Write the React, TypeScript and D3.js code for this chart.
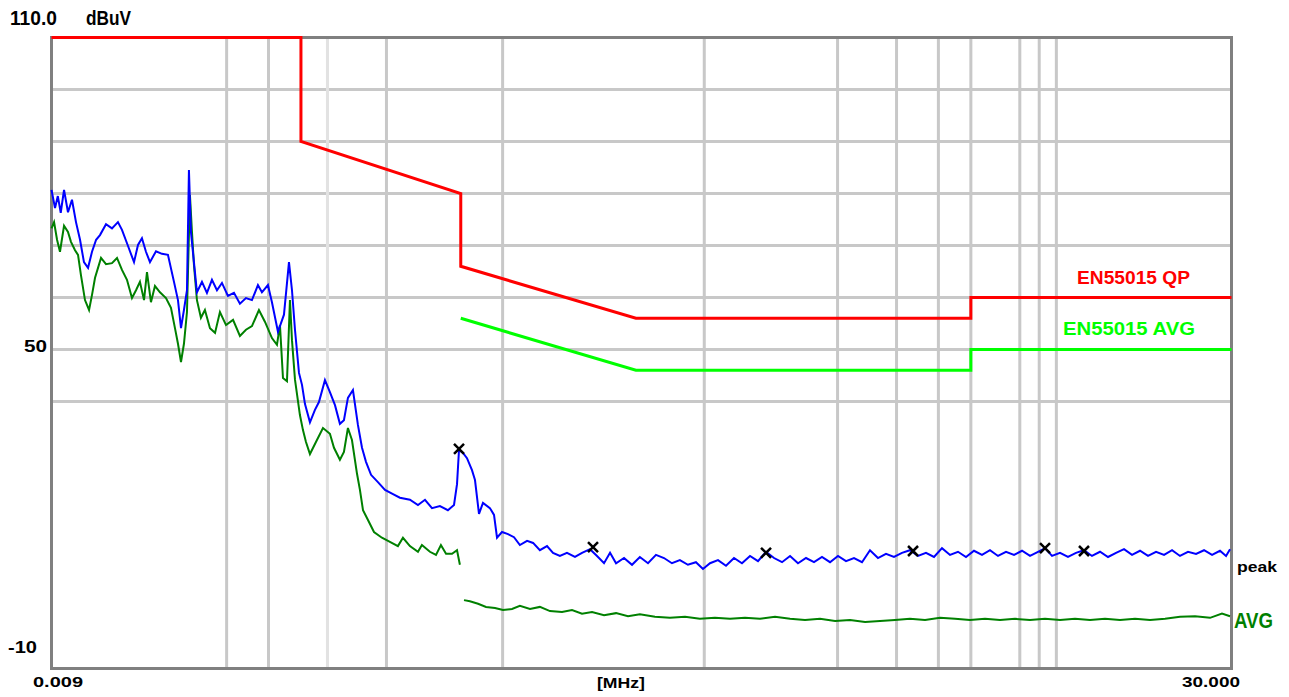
import React from "react";
import * as d3 from "d3";

// ---------- data ----------
const FREQ_DOMAIN: [number, number] = [0.009, 30]; // MHz
const LEVEL_DOMAIN: [number, number] = [-10, 110]; // dBuV

const gridFreqs = [0.03, 0.04, 0.06, 0.09, 0.2, 0.8, 2, 3, 4, 5, 7, 8, 9];
const lightGridFreqs = [0.06];
const gridLevels = [40, 50, 60, 70, 80, 90, 100];

const yTickLabels = ["110.0", "50", "-10"];
const xTickLabels = ["0.009", "[MHz]", "30.000"];

// EN55015 limit lines
const qpLimitFreq = [0.009, 0.05, 0.05, 0.15, 0.15, 0.5, 5, 5, 30];
const qpLimitLevel = [110, 110, 90, 80, 66, 56, 56, 60, 60];
const avgLimitFreq = [0.15, 0.5, 5, 5, 30];
const avgLimitLevel = [56, 46, 46, 50, 50];

// Peak trace (blue)
const peakFreq = [
  0.009, 0.00922, 0.0094, 0.00959, 0.00981, 0.01008, 0.01036, 0.01065, 0.01095, 0.01125,
  0.01157, 0.01189, 0.01223, 0.01256, 0.01309, 0.01364, 0.01421, 0.01461, 0.01523, 0.01587,
  0.01631, 0.01676, 0.01723, 0.01771, 0.01846, 0.01923, 0.02004, 0.02089, 0.02147, 0.02192,
  0.02237, 0.02284, 0.02315, 0.02347, 0.02396, 0.02446, 0.02532, 0.0262, 0.02712, 0.02807,
  0.02905, 0.03027, 0.03155, 0.03287, 0.03426, 0.0357, 0.0372, 0.03824, 0.03985, 0.04096,
  0.04269, 0.04449, 0.04605, 0.04701, 0.04799, 0.04933, 0.05036, 0.05141, 0.05319, 0.05505,
  0.05658, 0.05897, 0.06102, 0.06318, 0.06536, 0.06719, 0.06906, 0.07148, 0.07397, 0.07608,
  0.07819, 0.08095, 0.08487, 0.08911, 0.09414, 0.09873, 0.10575, 0.11177, 0.1173, 0.12308,
  0.12996, 0.1373, 0.1432, 0.14619, 0.14819, 0.15232, 0.15656, 0.16203, 0.16541, 0.17002,
  0.17476, 0.18326, 0.18852, 0.19245, 0.19919, 0.20757, 0.2163, 0.2252, 0.23662, 0.2466,
  0.2584, 0.27141, 0.28284, 0.2965, 0.3113, 0.3289, 0.34523, 0.36476, 0.38274, 0.40163,
  0.41858, 0.4362, 0.46083, 0.48678, 0.5138, 0.54339, 0.57403, 0.60647, 0.64056, 0.6765,
  0.71495, 0.75541, 0.7929, 0.83216, 0.8792, 0.92893, 0.98142, 1.0368, 1.0955, 1.1574,
  1.2231, 1.2924, 1.3653, 1.4427, 1.5237, 1.6101, 1.701, 1.797, 1.899, 2.006,
  2.1195, 2.239, 2.366, 2.4993, 2.6406, 2.79, 2.9475, 3.114, 3.29, 3.4767,
  3.673, 3.881, 4.1, 4.3326, 4.577, 4.836, 5.109, 5.398, 5.703, 6.026,
  6.367, 6.727, 7.107, 7.5096, 7.934, 8.324, 8.735, 9.229, 9.749, 10.3,
  10.883, 11.498, 12.15, 12.837, 13.563, 14.33, 15.141, 15.995, 16.9, 17.859,
  18.869, 19.936, 21.056, 22.252, 23.51, 24.84, 26.245, 27.72, 28.895, 29.7,
];
const peakLevel = [
  80.7, 77.2, 79.5, 76.3, 80.7, 76.4, 78.8, 74.5, 71.1, 66.8,
  65.7, 68.8, 71.1, 72.0, 74.1, 73.3, 74.5, 73.0, 69.9, 66.8,
  70.1, 71.4, 68.8, 66.8, 68.9, 68.4, 68.2, 63.0, 59.5, 54.1,
  57.6, 61.4, 84.5, 72.6, 66.8, 61.0, 63.0, 60.9, 63.4, 61.4,
  62.8, 60.3, 60.9, 58.8, 59.9, 59.5, 62.4, 61.0, 62.4, 59.1,
  53.4, 56.7, 66.8, 61.4, 53.8, 45.5, 43.2, 39.5, 36.0, 38.4,
  39.9, 44.1, 41.8, 39.3, 35.7, 36.4, 40.7, 42.2, 35.5, 31.1,
  28.4, 25.9, 24.5, 23.0, 22.2, 21.5, 21.1, 20.1, 21.1, 19.5,
  19.9, 19.1, 20.1, 24.1, 30.7, 30.1, 29.1, 26.8, 24.9, 18.4,
  20.5, 19.5, 18.2, 13.8, 14.9, 14.5, 13.9, 12.4, 13.2, 12.8,
  11.4, 12.2, 10.9, 10.3, 10.9, 10.1, 10.9, 11.6, 10.3, 8.9,
  10.9, 8.9, 9.9, 8.6, 10.1, 8.9, 10.5, 9.9, 8.9, 9.5,
  8.6, 9.1, 7.8, 8.9, 9.5, 8.4, 9.9, 8.9, 10.3, 9.3,
  11.1, 9.9, 9.1, 10.3, 8.9, 9.9, 9.1, 10.1, 9.1, 10.3,
  9.3, 9.9, 9.1, 11.4, 9.9, 10.7, 10.1, 10.9, 11.4, 10.3,
  10.9, 10.1, 11.8, 10.5, 11.1, 10.1, 11.3, 10.5, 11.4, 10.3,
  11.1, 10.5, 11.3, 10.3, 11.1, 11.8, 10.3, 10.9, 10.1, 10.9,
  11.4, 10.3, 11.1, 10.1, 10.9, 11.6, 10.5, 11.3, 10.3, 11.1,
  10.5, 11.4, 10.3, 11.1, 10.7, 11.4, 10.5, 11.3, 10.3, 11.6,
];

// Average trace (green), band A (9-150 kHz)
const avgFreqBandA = [
  0.009, 0.00916, 0.00935, 0.00954, 0.00981, 0.01008, 0.01029, 0.01058, 0.0108, 0.01102,
  0.01133, 0.01165, 0.01189, 0.01214, 0.01265, 0.01309, 0.01364, 0.01412, 0.01461, 0.01512,
  0.01565, 0.01609, 0.01653, 0.017, 0.01735, 0.01783, 0.01833, 0.01897, 0.01977, 0.02046,
  0.02103, 0.02147, 0.02192, 0.02237, 0.02284, 0.02331, 0.02364, 0.02396, 0.02446, 0.02514,
  0.02584, 0.02675, 0.0277, 0.02865, 0.02987, 0.03135, 0.03287, 0.03426, 0.0357, 0.03746,
  0.03906, 0.04096, 0.0424, 0.04328, 0.04419, 0.04542, 0.04636, 0.04701, 0.04799, 0.04965,
  0.0507, 0.05176, 0.05319, 0.05543, 0.05817, 0.06102, 0.06275, 0.06536, 0.06719, 0.06906,
  0.071, 0.07351, 0.075, 0.0766, 0.07927, 0.08261, 0.08724, 0.09217, 0.09738, 0.10081,
  0.10575, 0.11177, 0.11485, 0.12133, 0.12652, 0.13087, 0.13556, 0.14126, 0.14619, 0.14911,
];
const avgLevelBandA = [
  73.3, 74.5, 71.1, 68.8, 73.8, 72.6, 70.7, 69.1, 68.2, 64.3,
  59.5, 57.6, 60.5, 63.8, 67.6, 66.4, 66.6, 67.6, 65.3, 63.4,
  59.9, 61.4, 63.0, 59.5, 64.9, 59.1, 62.2, 61.0, 59.9, 58.0,
  54.1, 51.1, 47.6, 51.1, 57.2, 79.7, 72.6, 66.3, 59.5, 56.1,
  57.6, 54.1, 53.2, 57.2, 54.7, 55.7, 52.6, 53.8, 54.5, 57.6,
  55.3, 52.2, 50.9, 54.7, 44.5, 43.9, 59.5, 51.8, 44.2, 37.4,
  34.5, 32.2, 29.9, 32.2, 34.9, 33.8, 31.1, 28.8, 30.3, 34.9,
  32.6, 26.1, 23.0, 19.1, 17.2, 14.9, 13.8, 13.0, 12.2, 13.8,
  12.2, 11.1, 12.4, 11.1, 10.5, 12.4, 10.7, 10.7, 11.4, 8.6,
];
// Average trace (green), band B (150 kHz - 30 MHz)
const avgFreqBandB = [
  0.15337, 0.15972, 0.16894, 0.17843, 0.18983, 0.20056, 0.21337, 0.2252, 0.24144, 0.2584,
  0.277, 0.3008, 0.3223, 0.34523, 0.3698, 0.40163, 0.4362, 0.4736, 0.5138, 0.57,
  0.6318, 0.701, 0.7761, 0.861, 0.955, 1.0587, 1.1733, 1.301, 1.4427, 1.599,
  1.7726, 1.966, 2.179, 2.4165, 2.6778, 2.968, 3.29, 3.649, 4.0449, 4.485,
  4.971, 5.511, 6.11, 6.773, 7.5096, 8.324, 9.229, 10.23, 11.342, 12.575,
  13.94, 15.456, 17.135, 18.998, 21.056, 23.35, 25.887, 28.1, 29.7,
];
const avgLevelBandB = [
  1.8, 1.6, 1.1, 0.5, 0.3, -0.1, 0.1, 0.7, 0.1, 0.5,
  -0.3, -0.5, -0.1, -0.8, -0.5, -1.1, -0.7, -1.3, -0.9, -1.4,
  -1.6, -1.4, -1.8, -1.6, -1.8, -1.6, -1.8, -1.4, -1.8, -2.0,
  -1.8, -2.2, -2.0, -2.4, -2.2, -2.0, -1.8, -2.0, -1.6, -1.8,
  -2.0, -1.8, -2.0, -1.8, -2.0, -1.8, -2.0, -1.8, -2.0, -1.8,
  -2.0, -1.8, -2.0, -1.8, -1.4, -1.3, -1.6, -0.8, -1.3,
];

// Peak markers
const markerFreq = [0.1482, 0.3723, 1.2231, 3.36, 8.324, 10.883];
const markerLevel = [30.9, 12.0, 10.9, 11.25, 11.8, 11.25];

// ---------- layout ----------
const W = 1289;
const H = 697;
const PLOT = { left: 51.5, right: 1231.5, top: 37.5, bottom: 668.5, yZero: 661.5 };

const zip = (a: number[], b: number[]): [number, number][] =>
  a.slice(0, Math.min(a.length, b.length)).map((v, i) => [v, b[i]]);

export default function App() {
  const x = d3.scaleLog().domain(FREQ_DOMAIN).range([PLOT.left, PLOT.right]);
  const y = d3.scaleLinear().domain(LEVEL_DOMAIN).range([PLOT.yZero, PLOT.top]);
  const line = d3
    .line<[number, number]>()
    .x((d) => x(d[0]))
    .y((d) => y(d[1]));

  const font = "'Liberation Sans', Arial, sans-serif";

  return (
    <svg
      width={W}
      height={H}
      style={{ position: "absolute", left: 0, top: 0, background: "#fff" }}
    >
      {/* grid */}
      {gridLevels.map((v) => (
        <line
          key={"h" + v}
          x1={PLOT.left}
          x2={PLOT.right}
          y1={y(v)}
          y2={y(v)}
          stroke="#c8c8c8"
          strokeWidth={3}
        />
      ))}
      {gridFreqs.map((f) => (
        <line
          key={"v" + f}
          x1={x(f)}
          x2={x(f)}
          y1={PLOT.top}
          y2={PLOT.bottom}
          stroke={lightGridFreqs.includes(f) ? "#e2e2e2" : "#c8c8c8"}
          strokeWidth={3}
        />
      ))}
      {/* frame */}
      <rect
        x={PLOT.left}
        y={PLOT.top}
        width={PLOT.right - PLOT.left}
        height={PLOT.bottom - PLOT.top}
        fill="none"
        stroke="#808080"
        strokeWidth={3}
      />

      {/* traces */}
      <path d={line(zip(avgFreqBandA, avgLevelBandA)) || ""} fill="none" stroke="#008000" strokeWidth={2} />
      <path d={line(zip(avgFreqBandB, avgLevelBandB)) || ""} fill="none" stroke="#008000" strokeWidth={2} />
      <path d={line(zip(peakFreq, peakLevel)) || ""} fill="none" stroke="#0000ff" strokeWidth={2} />

      {/* limits */}
      <path d={line(zip(qpLimitFreq, qpLimitLevel)) || ""} fill="none" stroke="#ff0000" strokeWidth={3} />
      <path d={line(zip(avgLimitFreq, avgLimitLevel)) || ""} fill="none" stroke="#00ff00" strokeWidth={3} />

      {/* markers */}
      {zip(markerFreq, markerLevel).map(([f, v], i) => (
        <path
          key={"m" + i}
          transform={`translate(${x(f)},${y(v)})`}
          d="M-5,-5L5,5M-5,5L5,-5"
          stroke="#000"
          strokeWidth={2.5}
          fill="none"
        />
      ))}

      {/* axis texts */}
      <g fontFamily={font} fontWeight="bold" fill="#000">
        <text x={10} y={25} fontSize={20} textLength={47} lengthAdjust="spacingAndGlyphs">
          {yTickLabels[0]}
        </text>
        <text x={86} y={25} fontSize={20} textLength={45} lengthAdjust="spacingAndGlyphs">
          dBuV
        </text>
        <text x={24} y={352} fontSize={16} textLength={23} lengthAdjust="spacingAndGlyphs">
          {yTickLabels[1]}
        </text>
        <text x={8} y={653} fontSize={16} textLength={29} lengthAdjust="spacingAndGlyphs">
          {yTickLabels[2]}
        </text>
        <text x={33} y={687} fontSize={14.5} textLength={50} lengthAdjust="spacingAndGlyphs">
          {xTickLabels[0]}
        </text>
        <text x={597} y={688} fontSize={15} textLength={48} lengthAdjust="spacingAndGlyphs">
          {xTickLabels[1]}
        </text>
        <text x={1182} y={687} fontSize={14.5} textLength={58} lengthAdjust="spacingAndGlyphs">
          {xTickLabels[2]}
        </text>
        <text x={1237} y={572} fontSize={15} textLength={40} lengthAdjust="spacingAndGlyphs">
          peak
        </text>
        <text x={1234} y={628} fontSize={22} textLength={39} lengthAdjust="spacingAndGlyphs" fill="#008000">
          AVG
        </text>
        <text x={1077} y={284} fontSize={19} textLength={113} lengthAdjust="spacingAndGlyphs" fill="#ff0000">
          EN55015 QP
        </text>
        <text x={1063} y={335} fontSize={19} textLength={132} lengthAdjust="spacingAndGlyphs" fill="#00ff00">
          EN55015 AVG
        </text>
      </g>
    </svg>
  );
}
